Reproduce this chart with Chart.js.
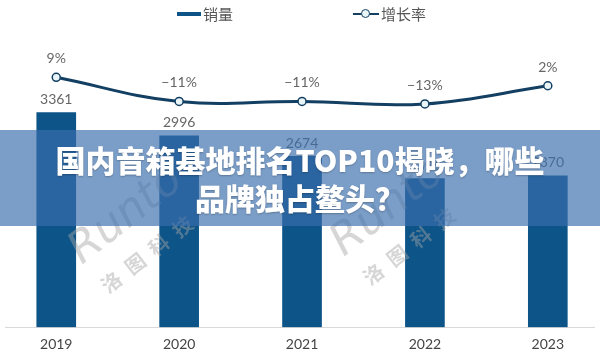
<!DOCTYPE html>
<html>
<head>
<meta charset="utf-8">
<script src="https://cdn.jsdelivr.net/npm/chart.js@4.4.1/dist/chart.umd.min.js"></script>
<style>
  html, body { margin:0; padding:0; background:#fff; overflow:hidden; }
  #wrap { position:relative; width:600px; height:356px; overflow:hidden; background:#fff; }
  #c { position:absolute; left:0; top:0; }
  .lg { position:absolute; font-family:"Noto Sans CJK SC", sans-serif; font-size:15px; color:#555; line-height:20px; }
  .wm { position:absolute; font-family:"DejaVu Sans", sans-serif; color:rgba(165,165,165,0.45); white-space:nowrap; transform-origin:left bottom; }
  #banner { position:absolute; left:0; top:130px; width:600px; height:96px; background:rgba(58,110,173,0.67);
            color:#fff; font-family:"Noto Sans CJK SC", sans-serif; font-weight:900; font-size:30px; line-height:38px;
            text-align:center; box-sizing:border-box; padding-top:10px; text-shadow:0 1px 2px rgba(0,0,0,0.25); }
</style>
</head>
<body>
<div id="wrap">
  <canvas id="c" width="600" height="362"></canvas>
  <div class="wm" style="left:88px;top:222px;font-size:44px;transform:rotate(-38deg);font-style:italic;">Runto</div>
  <div class="wm" style="left:112px;top:270px;font-size:20px;letter-spacing:10px;transform:rotate(-38deg);font-family:'Noto Sans CJK SC';font-weight:700;">洛图科技</div>
  <div class="wm" style="left:350px;top:214px;font-size:44px;transform:rotate(-38deg);font-style:italic;">Runto</div>
  <div class="wm" style="left:374px;top:262px;font-size:20px;letter-spacing:10px;transform:rotate(-38deg);font-family:'Noto Sans CJK SC';font-weight:700;">洛图科技</div>
  <div id="banner">国内音箱基地排名TOP10揭晓，哪些<br>品牌独占鳌头？</div>
  <div style="position:absolute;left:177px;top:12px;width:24px;height:4px;background:#0d5488;"></div>
  <div class="lg" style="left:203px;top:4px;">销量</div>
  <div style="position:absolute;left:353px;top:13px;width:26px;height:2px;background:#133f62;"></div>
  <div style="position:absolute;left:361px;top:9px;width:7px;height:7px;border:1.5px solid #133f62;border-radius:50%;background:#eaf5f8;"></div>
  <div class="lg" style="left:381px;top:4px;">增长率</div>
</div>
<script>
const years = ['2019', '2020', '2021', '2022', '2023'];
const sales = [3361, 2996, 2674, 2326, 2370];
const growth = [9, -11, -11, -13, 2];

function fmtPct(v) { return (v < 0 ? '\u2212' : '') + Math.abs(v) + '%'; }

const labelPlugin = {
  id: 'valueLabels',
  afterDatasetsDraw(chart) {
    const ctx = chart.ctx;
    ctx.save();
    ctx.font = '14px Lato, "Open Sans", sans-serif';
    ctx.fillStyle = '#666';
    ctx.textAlign = 'center';
    ctx.textBaseline = 'middle';
    chart.getDatasetMeta(0).data.forEach((el, i) => {
      ctx.fillText(String(sales[i]), el.x, el.y - 13);
    });
    chart.getDatasetMeta(1).data.forEach((el, i) => {
      ctx.fillText(fmtPct(growth[i]), el.x, el.y - 18.5);
    });
    ctx.restore();
  }
};

new Chart(document.getElementById('c'), {
  type: 'bar',
  data: {
    datasets: [
      {
        type: 'bar',
        label: '销量',
        data: sales.map((v, i) => ({ x: i, y: v })),
        xAxisID: 'x',
        yAxisID: 'y',
        backgroundColor: '#0d5488',
        barThickness: 39,
        order: 2
      },
      {
        type: 'line',
        label: '增长率',
        data: growth.map((v, i) => ({ x: i, y: v })),
        xAxisID: 'x',
        yAxisID: 'y2',
        borderColor: '#133f62',
        borderWidth: 3,
        tension: 0.4,
        pointRadius: 4,
        pointBackgroundColor: '#eaf5f8',
        pointBorderColor: '#133f62',
        pointBorderWidth: 1.5,
        order: 1
      }
    ]
  },
  options: {
    responsive: false,
    animation: false,
    layout: { padding: { top: 40, left: 0, right: 0, bottom: 0 } },
    plugins: { legend: { display: false }, tooltip: { enabled: false } },
    scales: {
      x: {
        type: 'linear',
        min: -0.413,
        max: 4.38,
        offset: false,
        grid: { display: false, drawTicks: false, offset: false },
        border: { display: true, color: '#d9d9d9', width: 1 },
        afterBuildTicks: (s) => { s.ticks = years.map((_, i) => ({ value: i })); },
        ticks: {
          callback: (v) => years[v],
          color: '#444',
          font: { size: 14, family: 'Lato' },
          padding: 9,
          autoSkip: false,
          maxRotation: 0
        }
      },
      y: { display: false, min: 0, max: 4497 },
      y2: { display: false, min: -197.67, max: 39.83 }
    }
  },
  plugins: [labelPlugin]
});
</script>
</body>
</html>
